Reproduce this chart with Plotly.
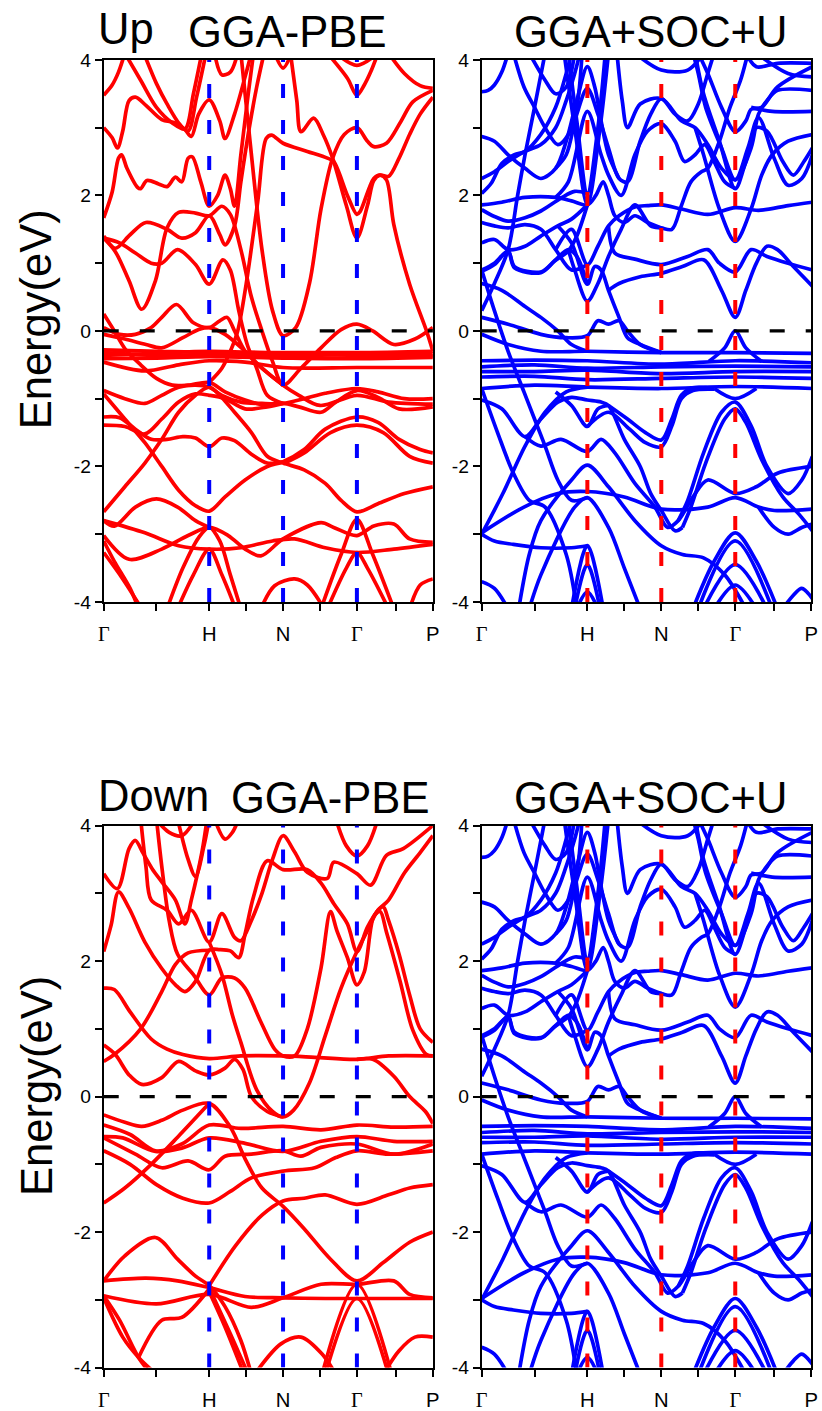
import plotly.graph_objects as go

# ---------------- axes / labels ----------------
K_TICKS = [0, 0.5, 1.0, 1.35, 1.7, 2.05, 2.4, 2.77, 3.12]
GAMMA = '<span style="font-family:Liberation Serif">Γ</span>'
K_LABELS = [GAMMA, '', 'H', '', 'N', '', GAMMA, '', 'P']
SYM_K = [1.0, 1.7, 2.4]
E_TICKS = [-4, -3, -2, -1, 0, 1, 2, 3, 4]
E_LABELS = ['-4', '', '-2', '', '0', '', '2', '', '4']
K_MAX = 3.12

# ---------------- band data: (k, E in eV) ----------------
up_pbe_bands = [
    [(0,3.48),(0.08,3.63),(0.14,3.82),(0.2,4.1)],
    [(0,3.0),(0.08,2.85),(0.13,2.7),(0.18,2.95),(0.24,3.4),(0.3,3.45),(0.4,3.33),(0.55,3.12),(0.68,3.07),(0.77,2.97),(0.83,2.87),(0.9,3.2),(1.0,3.41),(1.1,3.1),(1.15,2.84),(1.24,3.2),(1.34,3.75),(1.4,4.1)],
    [(0.2,4.1),(0.35,3.7),(0.5,3.3),(0.65,3.07),(0.77,2.98),(0.85,3.5),(0.93,4.1)],
    [(0.38,4.1),(0.5,3.65),(0.6,3.35),(0.72,3.05),(0.8,2.95),(0.88,3.45),(0.97,4.1)],
    [(1.05,4.1),(1.12,3.78),(1.2,3.82),(1.27,4.1)],
    [(0,1.67),(0.08,2.05),(0.14,2.55),(0.17,2.6),(0.22,2.4),(0.32,2.12),(0.35,2.1),(0.41,2.22),(0.52,2.17),(0.6,2.13),(0.68,2.27),(0.74,2.2),(0.8,2.55),(0.84,2.57),(0.92,2.2),(1.0,1.84),(1.08,2.0),(1.15,2.3),(1.2,2.1),(1.24,1.84),(1.3,2.6),(1.37,3.5),(1.42,4.1)],
    [(0,1.37),(0.11,1.17),(0.24,0.74),(0.36,0.32),(0.49,0.74),(0.6,1.52),(0.71,1.75),(0.87,1.74),(1.0,1.70),(1.12,1.84),(1.2,1.72),(1.3,1.2),(1.4,0.5),(1.5,0.0),(1.6,-0.45),(1.7,-0.8),(1.87,-0.55),(2.06,-0.25),(2.25,0.02),(2.4,0.1),(2.55,0.0),(2.75,-0.2),(2.95,-0.12),(3.12,0.05)],
    [(0,1.4),(0.11,1.22),(0.25,1.42),(0.4,1.6),(0.6,1.5),(0.74,1.37),(0.87,1.45),(1.0,1.70),(1.1,1.42),(1.15,1.27),(1.24,1.55),(1.3,2.2),(1.38,3.0),(1.45,3.6),(1.52,4.1)],
    [(0,1.37),(0.15,1.3),(0.3,1.15),(0.45,1.0),(0.55,1.0),(0.7,1.2),(0.87,0.98),(1.0,0.69),(1.13,1.05),(1.2,0.9),(1.28,0.3),(1.36,-0.2),(1.45,-0.55),(1.55,-0.95),(1.7,-1.07)],
    [(0,0.05),(0.15,-0.05),(0.3,-0.05),(0.45,0.05),(0.55,0.2),(0.69,0.39),(0.85,0.12),(1.0,0.05),(1.1,0.15),(1.17,0.2),(1.24,0.0),(1.34,-0.3),(1.5,-0.55),(1.7,-0.8)],
    [(1.0,-0.76),(1.12,-0.55),(1.2,-0.3),(1.27,0.0),(1.35,0.69),(1.46,1.91),(1.54,2.84),(1.59,2.89),(1.70,2.77),(1.93,2.65),(2.12,2.55),(2.18,2.5),(2.31,2.0),(2.4,1.72),(2.43,1.76),(2.56,2.25),(2.62,2.3),(2.68,2.23),(2.75,1.57),(2.9,0.69),(3.06,0.0),(3.12,-0.3)],
    [(1.3,4.1),(1.4,2.6),(1.5,1.2),(1.6,0.3),(1.7,-0.07),(1.82,0.05),(1.95,0.7),(2.06,1.8),(2.17,2.55),(2.28,2.9),(2.4,3.0),(2.5,2.8),(2.56,2.72),(2.68,2.77),(2.82,3.1),(2.93,3.38),(3.12,3.55)],
    [(1.77,4.1),(1.83,3.4),(1.87,2.94),(1.99,3.14),(2.08,2.9),(2.17,2.55),(2.3,1.85),(2.4,1.37),(2.5,1.85),(2.56,2.22),(2.62,2.3),(2.7,2.28),(2.8,2.55),(2.9,2.9),(3.0,3.2),(3.12,3.45)],
    [(2.12,4.1),(2.31,3.73),(2.4,3.48),(2.47,3.63),(2.53,3.82),(2.6,4.1)],
    [(2.2,4.1),(2.4,3.92),(2.6,4.1)],
    [(2.7,4.1),(2.85,3.8),(3.0,3.62),(3.12,3.58)],
    [(1.62,4.1),(1.70,3.88),(1.78,4.1)],
    # flat bands
    [(0,-0.28),(0.5,-0.3),(1.0,-0.32),(1.7,-0.32),(2.4,-0.32),(3.12,-0.3)],
    [(0,-0.32),(0.5,-0.36),(1.0,-0.35),(1.7,-0.36),(2.4,-0.35),(3.12,-0.34)],
    [(0,-0.36),(0.5,-0.33),(1.0,-0.3),(1.7,-0.33),(2.4,-0.36),(3.12,-0.37)],
    [(0,-0.41),(0.5,-0.4),(1.0,-0.38),(1.7,-0.4),(2.4,-0.41),(3.12,-0.39)],
    [(0,-0.46),(0.39,-0.59),(0.71,-0.5),(1.0,-0.44),(1.34,-0.46),(1.7,-0.54),(2.4,-0.54),(3.12,-0.54)],
    # valence
    [(0,0.25),(0.1,0.0),(0.2,-0.26),(0.35,-0.5),(0.5,-0.7),(0.65,-0.8),(0.8,-0.8),(1.0,-0.76),(1.15,-0.9),(1.34,-1.02),(1.55,-1.1),(1.7,-1.07),(1.85,-1.12),(2.06,-1.2),(2.2,-1.05),(2.4,-0.88),(2.6,-0.98),(2.8,-1.15),(3.12,-1.12)],
    [(0,-0.05),(0.2,-0.12),(0.4,-0.2),(0.55,-0.25),(0.75,-0.1),(0.9,0.02),(1.0,0.05),(1.15,-0.05),(1.34,-0.3),(1.5,-0.55),(1.7,-0.8),(1.85,-0.95),(2.05,-1.1),(2.4,-0.95),(2.7,-1.05),(3.12,-1.08)],
    [(0,-0.88),(0.2,-1.0),(0.39,-1.07),(0.55,-0.95),(0.71,-0.83),(0.87,-0.8),(1.0,-0.83),(1.12,-0.95),(1.3,-1.05),(1.5,-1.07),(1.7,-1.07),(1.9,-1.0),(2.1,-0.92),(2.4,-0.85),(2.6,-0.9),(2.85,-1.0),(3.12,-1.0)],
    [(0,-0.93),(0.2,-1.3),(0.39,-1.65),(0.55,-2.0),(0.71,-2.35),(0.87,-2.58),(1.0,-2.66),(1.15,-2.45),(1.34,-2.2),(1.55,-2.0),(1.7,-1.93),(1.9,-1.75),(2.1,-1.45),(2.4,-1.27),(2.6,-1.35),(2.8,-1.6),(3.0,-1.75),(3.12,-1.8)],
    [(0,-2.67),(0.2,-2.3),(0.39,-1.95),(0.55,-1.6),(0.71,-1.2),(0.87,-0.95),(1.0,-0.83),(1.1,-0.95),(1.24,-1.2),(1.4,-1.5),(1.55,-1.85),(1.7,-1.95),(1.9,-2.05),(2.1,-2.25),(2.25,-2.5),(2.4,-2.67),(2.6,-2.55),(2.85,-2.4),(3.12,-2.3)],
    [(1.7,-1.96),(1.9,-1.8),(2.15,-1.5),(2.4,-1.39),(2.65,-1.5),(2.9,-1.85),(3.12,-1.95)],
    [(0,-1.27),(0.15,-1.28),(0.3,-1.45),(0.45,-1.6),(0.6,-1.6),(0.75,-1.56),(0.87,-1.58),(1.0,-1.71),(1.12,-1.58),(1.24,-1.62),(1.4,-1.82),(1.55,-1.95),(1.7,-1.93)],
    [(0,-1.39),(0.2,-1.41),(0.39,-1.52),(0.55,-1.3),(0.71,-1.05),(0.87,-0.93),(1.0,-0.95),(1.15,-1.0),(1.34,-1.15),(1.55,-1.12),(1.7,-1.07)],
    [(0,-2.8),(0.39,-2.98),(0.71,-3.17),(1.0,-3.22),(1.3,-3.2),(1.6,-3.1),(1.81,-3.07),(2.1,-3.2),(2.4,-3.27),(2.75,-3.22),(3.12,-3.15)],
    [(0,-3.02),(0.24,-3.37),(0.55,-3.22),(0.8,-3.02),(1.0,-2.9),(1.18,-3.02),(1.34,-3.22),(1.49,-3.32),(1.7,-3.07),(2.06,-2.83),(2.18,-2.9),(2.4,-3.02),(2.56,-2.88),(2.75,-2.85),(2.9,-3.07),(3.12,-3.12)],
    [(0,-2.8),(0.1,-2.88),(0.3,-2.6),(0.5,-2.48),(0.7,-2.6),(0.87,-2.8),(1.0,-2.9)],
    [(0,-3.27),(0.18,-3.66),(0.36,-4.1)],
    [(0,-3.1),(0.1,-3.4),(0.25,-3.8),(0.33,-4.1)],
    [(0.6,-4.1),(0.75,-3.5),(0.9,-3.05),(1.0,-2.9),(1.1,-3.1),(1.2,-3.6),(1.3,-4.1)],
    [(0.7,-4.1),(0.85,-3.6),(1.0,-3.22),(1.12,-3.6),(1.25,-4.1)],
    [(1.49,-4.1),(1.62,-3.76),(1.81,-3.66),(1.93,-3.75),(2.09,-4.1)],
    [(2.06,-4.1),(2.25,-3.3),(2.4,-2.78),(2.55,-3.3),(2.75,-4.1)],
    [(2.12,-4.1),(2.3,-3.5),(2.4,-3.27),(2.5,-3.5),(2.7,-4.1)],
    [(2.9,-4.1),(3.0,-3.75),(3.12,-3.66)],
]

down_pbe_bands = [
    [(0,3.29),(0.13,3.07),(0.24,3.66),(0.3,3.78),(0.37,3.6),(0.46,3.36),(0.55,3.17),(0.68,2.9),(0.77,2.55),(0.83,2.9),(0.93,3.6),(0.98,4.1)],
    [(0,2.14),(0.07,2.53),(0.14,3.02),(0.24,2.78),(0.39,2.28),(0.55,1.89),(0.68,1.65),(0.77,1.55),(0.87,1.7),(1.0,2.16),(1.1,2.17),(1.2,2.15),(1.28,2.05),(1.34,2.4),(1.42,2.95),(1.55,3.48),(1.7,3.35),(1.93,3.35),(2.06,3.15),(2.18,2.85),(2.31,2.55),(2.4,2.14),(2.5,2.5),(2.6,2.75),(2.7,2.9),(2.85,3.3),(3.0,3.6),(3.12,3.85)],
    [(0.35,4.1),(0.4,3.4),(0.45,2.9),(0.6,2.75),(0.71,2.55),(0.83,2.75),(1.0,2.28),(1.12,2.7),(1.24,2.35),(1.3,2.3),(1.4,2.6),(1.5,3.0),(1.6,3.5),(1.7,3.85),(1.81,3.61),(1.93,3.31),(2.12,3.22),(2.18,3.46),(2.4,3.29),(2.53,3.12),(2.68,3.56),(2.84,3.66),(3.12,4.0)],
    [(0,1.6),(0.1,1.58),(0.25,1.25),(0.45,0.85),(0.6,0.7),(0.75,0.62),(1.0,0.56),(1.3,0.6),(1.7,0.6),(2.0,0.58),(2.4,0.55),(2.7,0.6),(3.12,0.6)],
    [(0,0.52),(0.1,0.62),(0.35,1.0),(0.55,1.55),(0.68,1.95),(0.8,2.12),(1.0,2.16)],
    [(0.5,4.1),(0.55,3.4),(0.62,2.6),(0.7,2.1),(0.85,1.8),(1.0,1.5),(1.12,1.75),(1.24,1.75),(1.34,1.6),(1.49,1.1),(1.62,0.7),(1.7,0.6),(1.81,0.6),(1.93,1.0),(2.06,1.9),(2.15,2.73),(2.21,2.45),(2.31,2.05),(2.4,1.65),(2.47,1.84),(2.56,2.66),(2.62,2.73),(2.68,2.43),(2.81,1.7),(2.93,0.98),(3.06,0.62),(3.12,0.6)],
    [(0,0.76),(0.11,0.62),(0.24,0.32),(0.36,0.18),(0.55,0.28),(0.71,0.52),(0.87,0.38),(1.0,0.32),(1.15,0.42),(1.24,0.55),(1.32,0.4),(1.4,0.0),(1.55,-0.22),(1.7,-0.3)],
    [(1.0,2.28),(1.12,1.8),(1.22,1.2),(1.3,0.8),(1.45,0.1),(1.6,-0.22),(1.7,-0.3),(1.8,-0.2),(1.95,0.2),(2.1,0.9),(2.25,1.6),(2.4,2.14),(2.5,2.45),(2.6,2.75),(2.65,2.8),(2.7,2.6),(2.8,2.1),(2.9,1.5),(3.0,1.0),(3.12,0.8)],
    [(2.4,0.55),(2.55,0.55),(2.75,0.3),(2.9,0.0),(3.05,-0.22),(3.12,-0.4)],
    [(2.2,4.1),(2.3,3.7),(2.4,3.55),(2.5,3.7),(2.6,4.1)],
    [(0.49,4.1),(0.62,3.9),(0.74,3.85),(0.87,4.1)],
    [(0.7,4.1),(0.8,3.5),(0.87,3.25),(0.95,3.7),(1.0,4.1)],
    [(1.05,4.1),(1.15,3.8),(1.22,3.9),(1.28,4.1)],
    # valence
    [(0,-0.27),(0.2,-0.38),(0.36,-0.44),(0.55,-0.35),(0.75,-0.2),(1.0,-0.1),(1.2,-0.45),(1.35,-0.95),(1.5,-1.35),(1.7,-1.62),(1.9,-1.95),(2.15,-2.4),(2.4,-2.72),(2.65,-2.45),(2.9,-2.15),(3.12,-2.0)],
    [(0,-1.57),(0.2,-1.35),(0.45,-1.0),(0.7,-0.6),(1.0,-0.1)],
    [(0,-0.42),(0.25,-0.56),(0.49,-0.8),(0.74,-0.7),(1.0,-0.42),(1.3,-0.47),(1.7,-0.44),(2.06,-0.49),(2.4,-0.42),(2.75,-0.45),(3.12,-0.44)],
    [(0,-0.59),(0.18,-0.61),(0.49,-0.81),(0.74,-0.76),(1.0,-0.61),(1.34,-0.69),(1.7,-0.81),(2.06,-0.66),(2.4,-0.59),(2.75,-0.66),(3.12,-0.66)],
    [(0,-0.61),(0.3,-0.85),(0.55,-1.05),(0.8,-0.95),(1.0,-1.08),(1.15,-0.88),(1.4,-0.85),(1.7,-0.8),(1.87,-0.88),(2.06,-0.75),(2.4,-0.7),(2.75,-0.85),(3.12,-0.7)],
    [(0,-0.8),(0.25,-1.0),(0.5,-1.3),(0.75,-1.5),(1.0,-1.57),(1.2,-1.4),(1.4,-1.2),(1.7,-1.1),(2.0,-1.05),(2.2,-0.9),(2.4,-0.8),(2.7,-0.85),(3.12,-0.8)],
    [(1.0,-2.79),(1.25,-2.2),(1.5,-1.75),(1.7,-1.54),(1.9,-1.5),(2.1,-1.45),(2.4,-1.59),(2.7,-1.45),(2.9,-1.35),(3.12,-1.3)],
    [(0,-2.72),(0.2,-2.35),(0.49,-2.08),(0.7,-2.4),(0.87,-2.65),(1.0,-2.79),(1.15,-3.1),(1.3,-3.6),(1.4,-4.1)],
    [(0,-2.72),(0.4,-2.68),(0.7,-2.72),(1.0,-2.82),(1.34,-2.95),(1.7,-2.97),(2.1,-2.98),(2.4,-2.98),(3.12,-2.98)],
    [(0,-2.94),(0.5,-3.06),(1.0,-2.92),(1.4,-3.11),(1.7,-2.97),(2.06,-2.77),(2.4,-2.77),(2.75,-2.72),(2.9,-2.92),(3.12,-2.97)],
    [(0,-2.97),(0.18,-3.55),(0.33,-3.85),(0.5,-4.1)],
    [(0,-2.94),(0.15,-3.3),(0.33,-3.85),(0.45,-4.1)],
    [(0.33,-3.85),(0.55,-3.3),(0.74,-3.26),(1.0,-2.84)],
    [(1.0,-2.82),(1.2,-3.5),(1.37,-4.1)],
    [(1.0,-2.88),(1.15,-3.4),(1.33,-4.1)],
    [(1.43,-4.1),(1.68,-3.65),(1.87,-3.55),(2.07,-3.8),(2.2,-4.1)],
    [(2.07,-4.1),(2.4,-2.77),(2.73,-4.1)],
    [(2.1,-4.1),(2.4,-2.98),(2.7,-4.1)],
    [(2.65,-4.1),(2.8,-3.75),(2.95,-3.55),(3.12,-3.55)],
]

soc_u_bands = [
    [(0,3.53),(0.06,3.55),(0.12,3.63),(0.19,3.82),(0.25,4.1)],
    [(0.3,4.1),(0.4,3.6),(0.5,3.3),(0.6,3.0),(0.72,2.75),(0.82,2.9),(0.9,3.3),(0.95,4.1)],
    [(0.45,4.1),(0.6,3.7),(0.7,3.5),(0.8,3.6),(0.88,4.1)],
    [(0,2.87),(0.12,2.8),(0.25,2.6),(0.41,2.4),(0.56,2.25),(0.7,2.4),(0.8,2.8),(0.9,3.4),(1.0,3.9),(1.07,3.6),(1.13,3.1),(1.2,2.6),(1.3,2.25)],
    [(0.82,4.1),(0.9,3.1),(1.0,2.03),(1.1,3.0),(1.17,4.1)],
    [(0.78,4.1),(0.88,3.0),(1.0,1.86),(1.12,3.0),(1.2,4.1)],
    [(0,1.86),(0.19,1.9),(0.41,1.97),(0.7,1.97),(0.85,1.92),(1.0,1.86),(1.08,2.0),(1.15,2.2),(1.2,2.0),(1.26,1.7),(1.35,1.6),(1.45,1.7),(1.57,1.6),(1.7,1.52)],
    [(0.7,2.4),(0.8,2.6),(0.9,3.2),(1.0,3.58),(1.1,3.2),(1.2,2.7),(1.3,2.25),(1.38,2.2),(1.5,2.8),(1.6,3.2),(1.7,3.43),(1.83,3.2),(1.95,3.1),(2.05,3.35),(2.14,3.8),(2.2,4.1)],
    [(0.7,1.97),(0.82,2.2),(1.0,3.24),(1.13,2.6),(1.2,2.3),(1.32,2.0),(1.45,2.6),(1.57,2.95),(1.7,3.06),(1.83,2.8),(1.92,2.5),(2.02,2.6),(2.11,2.75),(2.2,2.5),(2.3,2.2),(2.4,2.1)],
    [(0.72,1.55),(0.85,1.3),(1.0,0.69),(1.07,0.95),(1.13,0.9),(1.2,0.6),(1.3,0.2),(1.38,-0.1),(1.5,-0.2),(1.7,-0.32)],
    [(0.7,1.2),(0.85,1.5),(1.0,0.98),(1.1,1.25),(1.2,1.55),(1.3,1.7),(1.45,1.83),(1.57,1.85),(1.7,1.86),(1.89,1.8),(2.14,1.72),(2.4,1.82),(2.62,1.78),(2.9,1.85),(3.13,1.9)],
    [(0.82,1.2),(0.88,0.9),(1.0,0.44),(1.1,0.7),(1.2,1.1),(1.32,1.5),(1.45,1.86),(1.6,1.55),(1.7,1.52),(1.8,1.5),(1.89,1.85),(1.98,2.2),(2.08,2.35),(2.14,2.4),(2.25,2.8),(2.35,3.3),(2.45,3.7),(2.52,4.1)],
    [(1.28,4.1),(1.33,3.4),(1.38,3.0),(1.5,3.35),(1.7,3.43),(1.89,3.1),(2.02,3.0),(2.14,2.75),(2.27,2.4),(2.4,2.23),(2.55,2.7),(2.62,3.2),(2.7,3.4),(2.8,3.55),(3.13,3.55)],
    [(1.45,4.1),(1.7,3.85),(1.95,3.85),(2.1,4.1)],
    [(1.2,1.55),(1.26,1.15),(1.45,1.06),(1.7,0.98),(1.95,1.1),(2.14,1.2),(2.25,1.0),(2.4,0.87),(2.55,1.2),(2.7,1.1),(2.9,1.0),(3.13,0.9)],
    [(1.2,0.6),(1.3,0.7),(1.5,0.8),(1.7,0.85),(1.9,0.95),(2.1,1.05),(2.27,0.6),(2.4,0.2),(2.5,0.6),(2.6,1.0),(2.7,1.25),(2.8,1.2),(2.95,0.95),(3.13,0.66)],
    [(2.05,4.1),(2.14,3.8),(2.27,3.3),(2.4,2.94),(2.5,3.1),(2.55,3.27),(2.65,3.3),(2.8,3.6),(3.13,3.9)],
    [(2.02,4.1),(2.1,3.5),(2.25,2.8),(2.4,2.1),(2.5,2.5),(2.6,3.0),(2.7,2.95),(2.85,2.5),(2.95,2.3),(3.05,2.5),(3.13,2.7)],
    [(2.0,4.1),(2.05,3.8),(2.12,3.3),(2.27,2.7),(2.4,2.23),(2.52,2.7),(2.62,3.15),(2.77,2.54),(2.9,2.15),(3.03,2.25),(3.13,2.6)],
    [(2.02,3.0),(2.1,2.6),(2.25,1.8),(2.4,1.32),(2.55,1.8),(2.65,2.3),(2.75,2.6),(2.9,2.8),(3.13,2.9)],
    [(2.55,3.3),(2.75,3.24),(3.13,3.24)],
    [(2.5,4.1),(2.6,3.9),(2.8,3.95),(3.13,3.95)],
    [(2.6,4.1),(2.9,3.8),(3.13,3.75)],
    [(0,2.25),(0.12,2.35),(0.25,2.5),(0.41,2.65),(0.56,2.75),(0.7,3.0),(0.8,3.4),(0.88,3.8),(0.93,4.1)],
    [(0,2.03),(0.09,2.18),(0.19,2.47),(0.31,2.6),(0.41,2.65),(0.56,2.9),(0.7,3.3),(0.8,3.8),(0.85,4.1)],
    [(0,1.79),(0.12,1.69),(0.25,1.62),(0.41,1.67),(0.56,1.77),(0.75,1.96),(0.88,2.06),(1.0,2.03)],
    [(0,1.6),(0.12,1.55),(0.25,1.52),(0.41,1.57),(0.56,1.5),(0.7,1.2),(0.85,0.9),(1.0,0.98)],
    [(0,1.3),(0.12,1.35),(0.25,1.2),(0.41,1.25),(0.56,1.4),(0.72,1.55),(0.85,1.65),(1.0,1.86)],
    [(0,0.88),(0.12,0.98),(0.25,1.18),(0.31,0.93),(0.56,0.86),(0.69,1.03),(0.82,1.18),(0.9,1.4),(1.0,1.86)],
    [(0,0.9),(0.12,1.0),(0.25,1.18),(0.31,0.95),(0.56,0.87),(0.7,1.05),(0.82,1.2),(0.9,1.1),(1.0,0.69)],
    [(0,0.3),(0.12,0.7),(0.25,1.2),(0.34,2.0),(0.41,2.6),(0.5,3.3),(0.6,4.1)],
    [(0,0.7),(0.19,0.6),(0.41,0.36),(0.56,0.2),(0.72,0.0),(0.85,-0.2),(1.0,-0.3)],
    [(0,0.2),(0.25,0.1),(0.56,-0.05),(0.8,-0.1),(1.0,-0.07),(1.1,0.15),(1.2,0.1),(1.3,0.15),(1.38,0.0),(1.5,-0.2),(1.7,-0.32)],
    [(0,0.9),(0.12,0.3),(0.25,-0.3),(0.4,-0.9),(0.5,-1.3),(0.6,-1.7),(0.72,-2.2),(0.85,-2.5),(1.0,-2.46)],
    # flat f-bands
    [(0,-0.05),(0.25,-0.2),(0.56,-0.3),(1.0,-0.3),(1.7,-0.32),(2.4,-0.32),(3.13,-0.33)],
    [(0,-0.44),(0.5,-0.43),(1.0,-0.44),(1.7,-0.49),(2.4,-0.44),(3.13,-0.47)],
    [(0,-0.53),(0.5,-0.5),(1.0,-0.55),(1.7,-0.53),(2.4,-0.52),(3.13,-0.53)],
    [(0,-0.6),(0.5,-0.6),(1.0,-0.58),(1.7,-0.63),(2.4,-0.6),(3.13,-0.6)],
    [(0,-0.68),(0.5,-0.67),(1.0,-0.72),(1.7,-0.7),(2.4,-0.68),(3.13,-0.7)],
    [(0,-0.85),(0.5,-0.8),(1.0,-0.83),(1.7,-0.85),(2.4,-0.82),(3.13,-0.85)],
    [(2.15,-0.45),(2.3,-0.25),(2.4,0.0),(2.5,-0.25),(2.65,-0.45)],
    [(2.2,-0.85),(2.4,-1.0),(2.6,-0.85)],
    # valence
    [(1.86,-2.8),(1.95,-2.5),(2.1,-1.8),(2.27,-1.2),(2.4,-1.05),(2.55,-1.4),(2.7,-2.0),(2.9,-2.4),(3.03,-2.2),(3.13,-1.85)],
    [(1.9,-2.9),(1.98,-2.6),(2.12,-1.95),(2.3,-1.3),(2.4,-1.15),(2.5,-1.35),(2.65,-1.9),(2.85,-2.45),(3.0,-2.7),(3.13,-2.95)],
    [(1.2,-1.1),(1.38,-1.3),(1.55,-1.5),(1.7,-1.61),(1.8,-1.3),(1.89,-0.95),(2.0,-0.84),(2.2,-0.85)],
    [(1.0,-1.41),(1.2,-1.2),(1.4,-1.45),(1.55,-1.65),(1.7,-1.71),(1.8,-1.4),(1.89,-1.0),(2.0,-0.88),(2.2,-0.86)],
    [(0.7,-0.9),(0.85,-1.1),(1.0,-1.41),(1.1,-1.15),(1.2,-1.1)],
    [(0,-1.02),(0.19,-1.15),(0.41,-1.56),(0.56,-1.3),(0.72,-1.05),(0.85,-0.98),(1.0,-1.02),(1.13,-1.05),(1.2,-1.1),(1.35,-1.6),(1.5,-2.0),(1.6,-2.4),(1.7,-2.65),(1.83,-2.95),(1.9,-2.9)],
    [(0.41,-1.56),(0.56,-1.7),(0.75,-1.6),(1.0,-1.78),(1.13,-1.6),(1.26,-1.8),(1.45,-2.25),(1.64,-2.6),(1.76,-2.9),(1.86,-2.8),(2.0,-2.45),(2.14,-2.2),(2.4,-2.4),(2.6,-2.3),(2.8,-2.1),(3.13,-2.0)],
    [(0.35,-4.1),(0.45,-3.3),(0.56,-2.8),(0.85,-2.2),(1.0,-1.98),(1.2,-2.3),(1.45,-2.8),(1.7,-3.17),(1.9,-3.3),(2.1,-3.35),(2.3,-3.6),(2.5,-4.1)],
    [(0,-2.98),(0.4,-2.6),(0.72,-2.4),(1.0,-2.37),(1.35,-2.45),(1.7,-2.63),(2.14,-2.6),(2.4,-2.46),(2.62,-2.6),(2.77,-2.65),(3.13,-2.63)],
    [(0.45,-4.1),(0.56,-3.6),(0.88,-2.6),(1.0,-2.46),(1.2,-2.9),(1.35,-3.5),(1.5,-4.1)],
    [(0.85,-4.1),(1.0,-3.17),(1.15,-4.1)],
    [(0.88,-4.1),(1.0,-3.45),(1.12,-4.1)],
    [(0.9,-4.1),(1.0,-3.85),(1.1,-4.1)],
    [(2.0,-4.1),(2.2,-3.4),(2.4,-2.98),(2.6,-3.4),(2.8,-4.1)],
    [(2.05,-4.1),(2.4,-3.1),(2.75,-4.1)],
    [(2.1,-4.1),(2.4,-3.45),(2.7,-4.1)],
    [(2.2,-4.1),(2.4,-3.75),(2.6,-4.1)],
    [(0,-3.0),(0.12,-3.1),(0.3,-3.15),(0.56,-3.2),(0.85,-3.2),(1.0,-3.17)],
    [(0,-3.7),(0.12,-3.8),(0.25,-4.1)],
    [(0,-0.85),(0.15,-1.5),(0.3,-2.1),(0.45,-2.5),(0.6,-2.6),(0.8,-3.3),(0.9,-4.1)],
    [(0,-3.0),(0.2,-2.4),(0.41,-1.7),(0.6,-1.2),(0.8,-0.9),(1.0,-0.83)],
    [(2.62,-2.6),(2.77,-2.9),(2.9,-3.0),(3.03,-2.9),(3.13,-2.85)],
    [(2.85,-4.1),(2.95,-3.9),(3.03,-3.8),(3.13,-3.95)],
]

# ---------------- figure ----------------
RED = '#FF0000'
BLUE = '#0000FF'
FONT = 'Liberation Sans'
# the photographed page shows the figure offset and slightly reduced; the
# target positions below are given in picture pixels and mapped back here
VIEW_SCALE = 0.987
VIEW_OX, VIEW_OY = 5, 8
FIG_W, FIG_H = 830, 1425


def px_x(p):
    return (p - VIEW_OX) / VIEW_SCALE / FIG_W


def px_y(p):
    return 1 - (p - VIEW_OY) / VIEW_SCALE / FIG_H


def fs(size):
    return size / VIEW_SCALE


panels = [
    (up_pbe_bands, RED, BLUE, (103, 433), (58, 601), ''),
    (soc_u_bands, BLUE, RED, (482, 812.5), (58, 601), '2'),
    (down_pbe_bands, RED, BLUE, (103, 433), (825, 1368), '3'),
    (soc_u_bands, BLUE, RED, (482, 812.5), (825, 1368), '4'),
]

fig = go.Figure()
shapes = []
layout = {}
for bands, bcol, lcol, (xl, xr), (yt, yb), s in panels:
    xa, ya = 'x' + s, 'y' + s
    for band in bands:
        fig.add_trace(go.Scatter(
            x=[p[0] for p in band], y=[p[1] for p in band],
            mode='lines', xaxis=xa, yaxis=ya, showlegend=False, hoverinfo='skip',
            line=dict(color=bcol, width=3.7, shape='spline', smoothing=0.9)))
    for k in SYM_K:
        shapes.append(dict(type='line', xref=xa, yref=ya, x0=k, x1=k, y0=-4, y1=4,
                           layer='above', line=dict(color=lcol, width=4, dash='14px,22px')))
    shapes.append(dict(type='line', xref=xa, yref=ya, x0=0, x1=K_MAX + 0.02, y0=0, y1=0,
                       layer='above', line=dict(color='black', width=3.2, dash='15px,21px')))
    layout['xaxis' + s] = dict(
        domain=[px_x(xl), px_x(xr)], anchor=ya, range=[0, K_MAX], showgrid=False, zeroline=False,
        showline=True, linecolor='black', linewidth=2, mirror=True,
        ticks='outside', ticklen=7, tickwidth=2, tickcolor='black',
        tickmode='array', tickvals=K_TICKS, ticktext=K_LABELS, ticklabelstandoff=6,
        tickfont=dict(family=FONT, size=fs(20), color='black'))
    layout['yaxis' + s] = dict(
        domain=[px_y(yb), px_y(yt)], anchor=xa, range=[-4, 4], showgrid=False, zeroline=False,
        showline=True, linecolor='black', linewidth=2, mirror=True,
        ticks='outside', ticklen=7, tickwidth=2, tickcolor='black',
        tickmode='array', tickvals=E_TICKS, ticktext=E_LABELS,
        tickfont=dict(family=FONT, size=fs(19), color='black'))


def ann(text, xpx, ypx, xanchor='center', size=43, angle=0):
    return dict(text=text, x=px_x(xpx), y=px_y(ypx), xref='paper', yref='paper',
                xanchor=xanchor, yanchor='middle', showarrow=False, textangle=angle,
                font=dict(family=FONT, size=fs(size), color='black'))


annotations = [
    ann('Up', 95, 27, 'left'),
    ann('GGA-PBE', 287, 30),
    ann('GGA+SOC+U', 651, 30),
    ann('Down', 95, 795, 'left'),
    ann('GGA-PBE', 330, 797),
    ann('GGA+SOC+U', 651, 797),
    ann('Energy(eV)', 36, 318, angle=-90),
    ann('Energy(eV)', 36, 1086, angle=-90),
]

fig.update_layout(
    width=FIG_W, height=FIG_H, margin=dict(l=0, r=0, t=0, b=0),
    paper_bgcolor='white', plot_bgcolor='white',
    shapes=shapes, annotations=annotations, **layout)

fig.write_html('out.html')
